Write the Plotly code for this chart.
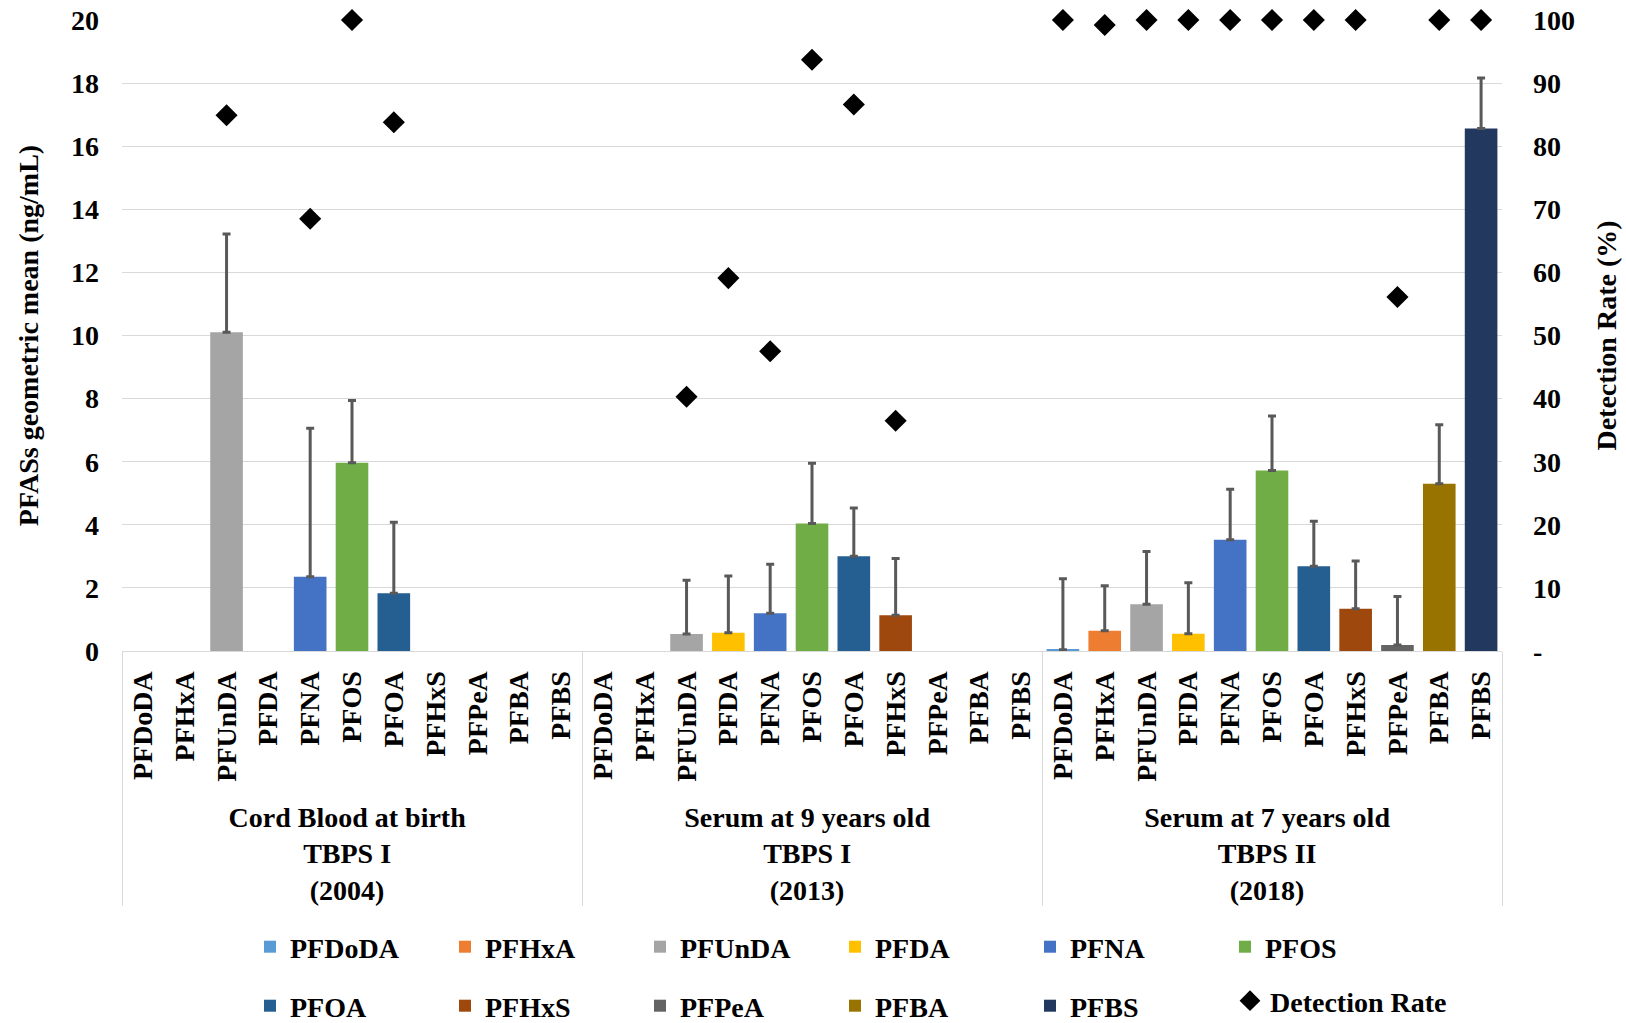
import plotly.graph_objects as go

groups = ["Cord Blood at birth<br>TBPS I<br>(2004)",
          "Serum at 9 years old<br>TBPS I<br>(2013)",
          "Serum at 7 years old<br>TBPS II<br>(2018)"]
compounds = ["PFDoDA", "PFHxA", "PFUnDA", "PFDA", "PFNA", "PFOS",
             "PFOA", "PFHxS", "PFPeA", "PFBA", "PFBS"]
colors = ["#5B9BD5", "#ED7D31", "#A5A5A5", "#FFC000", "#4472C4", "#70AD47",
          "#255E91", "#9E480E", "#636363", "#997300", "#22385F"]

# geometric means (ng/mL)
gm_cord = [None, None, 10.1, None, 2.35, 5.97, 1.83, None, None, None, None]
gm_9y   = [None, None, 0.54, 0.58, 1.20, 4.04, 3.00, 1.13, None, None, None]
gm_7y   = [0.04, 0.64, 1.48, 0.55, 3.53, 5.72, 2.69, 1.34, 0.19, 5.30, 16.56]
# upper end of error bars (ng/mL)
up_cord = [None, None, 13.22, None, 7.06, 7.94, 4.08, None, None, None, None]
up_9y   = [None, None, 2.24, 2.38, 2.75, 5.95, 4.53, 2.93, None, None, None]
up_7y   = [2.29, 2.07, 3.15, 2.16, 5.13, 7.45, 4.11, 2.85, 1.73, 7.17, 18.16]
# detection rates (%)
dr_cord = [None, None, 84.9, None, 68.5, 100, 83.8, None, None, None, None]
dr_9y   = [None, None, 40.3, 59.1, 47.5, 93.7, 86.6, 36.5, None, None, None]
dr_7y   = [100, 99.2, 100, 100, 100, 100, 100, 100, 56.1, 100, 100]

left_ticks = [0, 2, 4, 6, 8, 10, 12, 14, 16, 18, 20]
right_ticks = [0, 10, 20, 30, 40, 50, 60, 70, 80, 90, 100]
right_ticktext = ["-", "10", "20", "30", "40", "50", "60", "70", "80", "90", "100"]

gms = [gm_cord, gm_9y, gm_7y]
ups = [up_cord, up_9y, up_7y]
drs = [dr_cord, dr_9y, dr_7y]

FONT = "Liberation Serif"
BF = dict(family=FONT, size=28, color="black", weight="bold")
fig = go.Figure()

# detection rate (first, to fix category order)
x_all = [[g for g in groups for c in compounds], [c for g in groups for c in compounds]]
y_dr = [v for d in drs for v in d]
fig.add_trace(go.Scatter(
    x=x_all, y=y_dr, mode="markers", name="Detection Rate", yaxis="y2",
    marker=dict(symbol="diamond", size=17, color="black"), cliponaxis=False,
    legend="legend3", showlegend=True))

for i, c in enumerate(compounds):
    ys = [gms[k][i] for k in range(3)]
    errs = [(ups[k][i] - gms[k][i]) if gms[k][i] is not None else None for k in range(3)]
    fig.add_trace(go.Bar(
        x=[groups, [c] * 3], y=ys, name=c,
        marker=dict(color=colors[i], line=dict(width=0)),
        error_y=dict(type="data", array=errs, arrayminus=[0, 0, 0], symmetric=False,
                     color="#595959", thickness=3, width=4),
        legend="legend" if i < 6 else "legend2", legendrank=i + 1))

n_cat = len(groups) * len(compounds)
leg_common = dict(orientation="h", xref="container", yref="container",
                  xanchor="left", yanchor="middle", entrywidth=150,
                  entrywidthmode="pixels", bgcolor="rgba(0,0,0,0)", font=BF)

fig.update_layout(
    width=1626, height=1023, autosize=False,
    paper_bgcolor="white", plot_bgcolor="white",
    font=BF,
    margin=dict(l=122, r=124, t=20, b=372),
    barmode="overlay", bargap=0.22,
    xaxis=dict(type="multicategory", tickangle=-90, showgrid=False,
               range=[-0.5, n_cat - 0.5], automargin=False,
               showline=True, linecolor="#D9D9D9", linewidth=1,
               showdividers=True, dividercolor="#D9D9D9", dividerwidth=1,
               tickfont=BF, ticks="", ticklabelstandoff=8),
    yaxis=dict(range=[0, 20], tickvals=left_ticks, showgrid=True, gridcolor="#D9D9D9",
               gridwidth=1, zeroline=False, showline=False, ticks="", automargin=False,
               ticklabelstandoff=22, tickfont=BF,
               title=dict(text="PFASs geometric mean (ng/mL)", standoff=24, font=BF)),
    yaxis2=dict(range=[0, 100], overlaying="y", side="right", tickvals=right_ticks,
                ticktext=right_ticktext, showgrid=False, zeroline=False, showline=False,
                ticks="", ticklabelstandoff=30, automargin=False, tickfont=BF,
                title=dict(text="Detection Rate (%)", standoff=22, font=BF)),
    legend=dict(x=250 / 1626, y=76 / 1023, **leg_common),
    legend2=dict(x=250 / 1626, y=17 / 1023, **leg_common),
    legend3=dict(x=1230 / 1626, y=22 / 1023, orientation="h", xref="container",
                 yref="container", xanchor="left", yanchor="middle",
                 bgcolor="rgba(0,0,0,0)", font=BF),
)

fig.write_html("out.html", config={"displayModeBar": False},
               post_script="document.body.style.margin='0';")
